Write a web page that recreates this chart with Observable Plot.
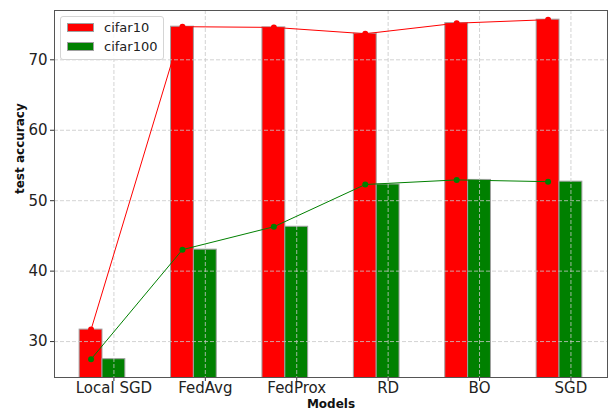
<!DOCTYPE html>
<html>
<head>
<meta charset="utf-8">
<script src="https://cdn.jsdelivr.net/npm/d3@7"></script>
<script src="https://cdn.jsdelivr.net/npm/@observablehq/plot@0.6"></script>
<style>
  html, body { margin: 0; padding: 0; background: #fff; }
  #wrap { position: relative; width: 608px; height: 410px; font-family: "DejaVu Sans", sans-serif; }
  #legend { position: absolute; left: 60px; top: 16px; width: 102px; height: 42px; border: 1px solid #d5d5d5; border-radius: 3px; background: rgba(255,255,255,0.8); font-size: 13px; color: #222; }
  .item { position: absolute; left: 6px; display: flex; align-items: center; }
  .sw { width: 27px; height: 9px; margin-right: 10px; border: 1px solid #a0a0a0; box-sizing: border-box; }
</style>
</head>
<body>
<div id="wrap"></div>
<script>
const models = ["Local SGD", "FedAvg", "FedProx", "RD", "BO", "SGD"];
const cifar10 = [31.7, 74.7, 74.6, 73.7, 75.2, 75.7];
const cifar100 = [27.5, 43.05, 46.3, 52.3, 52.95, 52.7];
const yTicks = [30, 40, 50, 60, 70];
const seriesNames = ["cifar10", "cifar100"];
const colors = ["#ff0000", "#008000"];

const idx = models.map((_, i) => i);
const w = 0.25;
const red = idx.map(i => ({i, v: cifar10[i]}));
const green = idx.map(i => ({i, v: cifar100[i]}));

const chart = Plot.plot({
  width: 608,
  height: 410,
  marginLeft: 54,
  marginRight: 1,
  marginTop: 10,
  marginBottom: 33,
  style: { fontFamily: "DejaVu Sans, sans-serif", color: "#222", background: "#fff" },
  x: { type: "linear", domain: [-0.65, 5.4] },
  y: { domain: [24.9, 77] },
  marks: [
    Plot.rect(red, { x1: d => d.i - 1.5 * w, x2: d => d.i - 0.5 * w, y1: 0, y2: "v", fill: colors[0], stroke: "#a0a0a0", strokeWidth: 1, clip: true }),
    Plot.rect(green, { x1: d => d.i - 0.5 * w, x2: d => d.i + 0.5 * w, y1: 0, y2: "v", fill: colors[1], stroke: "#a0a0a0", strokeWidth: 1, clip: true }),
    Plot.ruleX(idx, { stroke: "#c8c8c8", strokeDasharray: "4,2", strokeWidth: 0.8 }),
    Plot.ruleY(yTicks, { stroke: "#c8c8c8", strokeDasharray: "4,2", strokeWidth: 0.8 }),
    Plot.line(red, { x: d => d.i - w, y: "v", stroke: colors[0], strokeWidth: 1 }),
    Plot.dot(red, { x: d => d.i - w, y: "v", fill: colors[0], r: 3 }),
    Plot.line(green, { x: d => d.i - w, y: "v", stroke: colors[1], strokeWidth: 1 }),
    Plot.dot(green, { x: d => d.i - w, y: "v", fill: colors[1], r: 3 }),
    Plot.axisX({ ticks: idx, tickFormat: i => models[i], fontSize: 15, tickSize: 4, tickPadding: 1, label: null, stroke: "#333" }),
    Plot.axisY({ ticks: yTicks, fontSize: 15, tickSize: 4, tickPadding: 3, label: null, stroke: "#333" }),
    Plot.frame({ stroke: "#555" }),
    Plot.text(["Models"], { frameAnchor: "bottom", dy: 30, lineAnchor: "bottom", fontWeight: "bold", fontSize: 12, fill: "#111" }),
    Plot.text(["test accuracy"], { frameAnchor: "left", dx: -34, rotate: -90, fontWeight: "bold", fontSize: 12, fill: "#111" })
  ]
});

const wrap = document.getElementById("wrap");
wrap.appendChild(chart);
const legend = document.createElement("div");
legend.id = "legend";
seriesNames.forEach((name, k) => {
  const it = document.createElement("div");
  it.className = "item";
  it.style.top = (k === 0 ? 3 : 22) + "px";
  const sw = document.createElement("div");
  sw.className = "sw";
  sw.style.background = colors[k];
  const t = document.createElement("span");
  t.textContent = name;
  it.appendChild(sw);
  it.appendChild(t);
  legend.appendChild(it);
});
wrap.appendChild(legend);
</script>
</body>
</html>
